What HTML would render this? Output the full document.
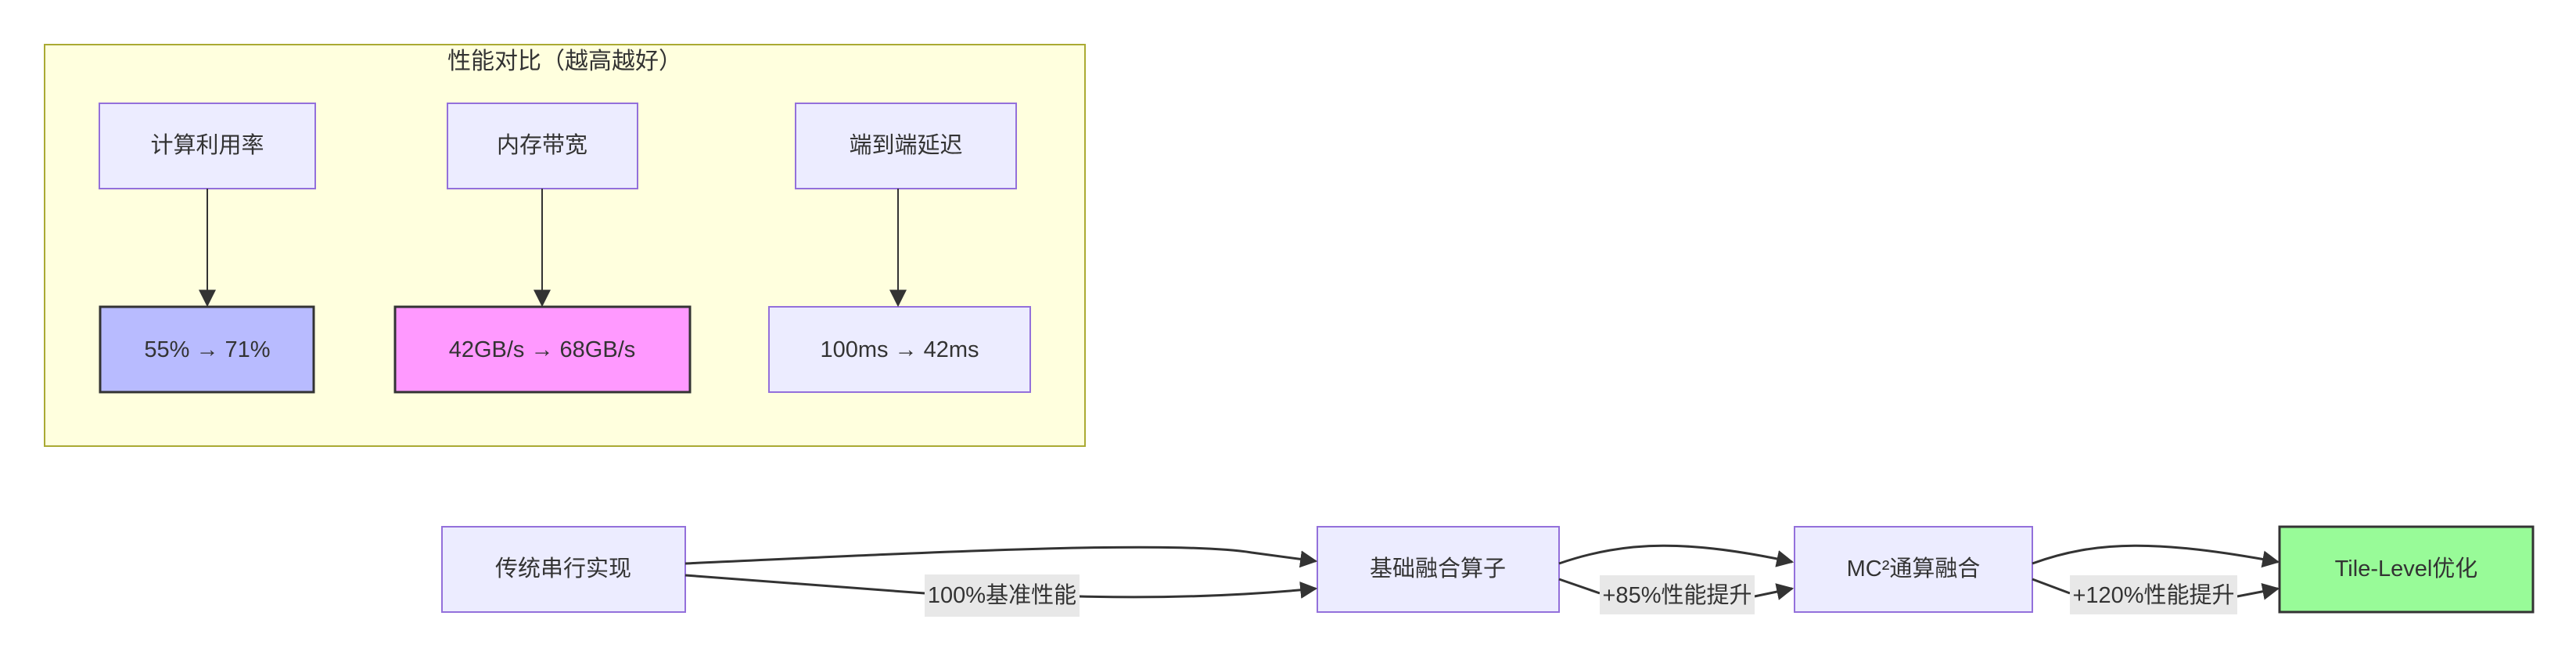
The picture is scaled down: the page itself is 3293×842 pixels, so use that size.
<!DOCTYPE html>
<html><head><meta charset="utf-8"><style>
html,body{margin:0;padding:0;background:#fff;}
svg text{font-family:"Liberation Sans","Noto Sans CJK SC",sans-serif;fill:#333;}
</style></head><body>
<svg width="3293" height="837" viewBox="0 0 3293 837" xmlns="http://www.w3.org/2000/svg">
<defs>
<marker id="a" viewBox="0 0 10 10" refX="9" refY="5" markerWidth="8" markerHeight="8" orient="auto" markerUnits="userSpaceOnUse" >
<path d="M0,0 L10,5 L0,10 z" fill="#333"/>
</marker>
<marker id="b" viewBox="0 0 10 10" refX="9" refY="5" markerWidth="22" markerHeight="22" orient="auto" markerUnits="userSpaceOnUse">
<path d="M0,0 L10,5 L0,10 z" fill="#333"/>
</marker>
</defs>
<rect x="57" y="57" width="1330" height="513" fill="#ffffde" stroke="#aaaa33" stroke-width="2"/>
<text x="722" y="88" font-size="30" text-anchor="middle">性能对比（越高越好）</text>

<g stroke="#9370db" stroke-width="2" fill="#ececff">
<rect x="127" y="132" width="276" height="109"/>
<rect x="572" y="132" width="243" height="109"/>
<rect x="1017" y="132" width="282" height="109"/>
<rect x="983" y="392" width="334" height="109"/>
<rect x="565" y="673" width="311" height="109"/>
<rect x="1684" y="673" width="309" height="109"/>
<rect x="2294" y="673" width="304" height="109"/>
</g>
<rect x="128" y="392" width="273" height="109" fill="#b8bbff" stroke="#333" stroke-width="3"/>
<rect x="505" y="392" width="377" height="109" fill="#ff99ff" stroke="#333" stroke-width="3"/>
<rect x="2914" y="673" width="324" height="109" fill="#98fb98" stroke="#333" stroke-width="3"/>

<g stroke="#333" stroke-width="2" fill="none">
<path d="M265 241 V390" marker-end="url(#b)"/>
<path d="M693 241 V390" marker-end="url(#b)"/>
<path d="M1148 241 V390" marker-end="url(#b)"/>
</g>
<g stroke="#333" stroke-width="3" fill="none">
<path d="M876 720 C1200 705 1500 690 1600 706 L1682 717" marker-end="url(#b)"/>
<path d="M876 735 L1182 758 M1380 762 C1500 765 1600 760 1682 752" marker-end="url(#b)"/>
<path d="M1993 720 C2080 690 2160 690 2291 718" marker-end="url(#b)"/>
<path d="M1993 740 L2045 758 M2243 762 L2291 752" marker-end="url(#b)"/>
<path d="M2598 720 C2680 690 2760 690 2912 718" marker-end="url(#b)"/>
<path d="M2598 740 L2646 758 M2860 762 L2912 752" marker-end="url(#b)"/>
</g>
<g fill="#e8e8e8">
<rect x="1182" y="734" width="198" height="54"/>
<rect x="2045" y="735" width="198" height="50"/>
<rect x="2646" y="735" width="214" height="50"/>
</g>
<g font-size="29" text-anchor="middle" dominant-baseline="central">
<text x="265" y="186">计算利用率</text>
<text x="693" y="186">内存带宽</text>
<text x="1158" y="186">端到端延迟</text>
<text x="265" y="447">55% → 71%</text>
<text x="693" y="447">42GB/s → 68GB/s</text>
<text x="1150" y="447">100ms → 42ms</text>
<text x="720" y="727">传统串行实现</text>
<text x="1838" y="727">基础融合算子</text>
<text x="2446" y="727">MC²通算融合</text>
<text x="3076" y="727">Tile-Level优化</text>
<text x="1281" y="761">100%基准性能</text>
<text x="2144" y="761">+85%性能提升</text>
<text x="2753" y="761">+120%性能提升</text>
</g>
</svg>
</body></html>
